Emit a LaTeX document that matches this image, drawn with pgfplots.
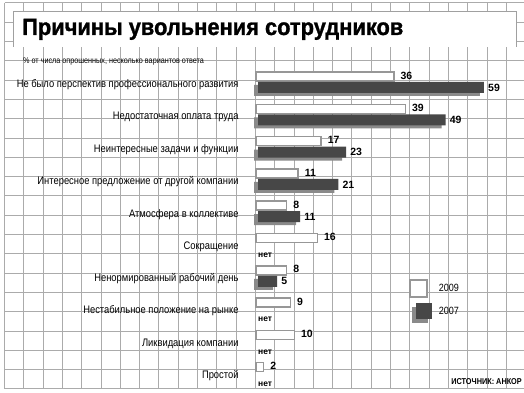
\documentclass[border=0pt]{standalone}
\usepackage{fontspec}
\setmainfont{Liberation Sans}
\newfontfamily\cond[FakeStretch=0.86]{Liberation Sans}
\newfontfamily\titlefont[FakeStretch=0.93, FakeBold=1.2]{Liberation Sans Bold}
\usepackage{pgfplots}
\usepackage{pgfplotstable}
\pgfplotsset{compat=1.18}
\definecolor{gridc}{HTML}{ABABAB}
\definecolor{boxc}{HTML}{A0A0A0}
\definecolor{barline}{HTML}{979797}
\definecolor{darkbar}{HTML}{474747}
\definecolor{shadowc}{HTML}{8A8A8A}
\newcommand{\fs}[1]{\fontsize{#1}{#1}\selectfont}
\pgfplotstableread{
y v
0 36
-1 39
-2 17
-3 11
-4 8
-5 16
-6 8
-7 9
-8 10
-9 2
}\tabA
\pgfplotstableread{
y v
0 59
-1 49
-2 23
-3 21
-4 11
-6 5
}\tabB
\begin{document}
\begin{tikzpicture}
\path[use as bounding box] (0,0) rectangle (524pt,393pt);
\fill[white] (0,0) rectangle (524pt,393pt);
\begin{scope}[yshift=393pt, x=1pt, y=-1pt]
  \foreach \k in {0,...,27} { \draw[gridc, line width=1pt] ({4.5+19.3*\k},3) -- ({4.5+19.3*\k},389); }
  \foreach \k in {0,...,20} { \draw[gridc, line width=1pt] (4.5,{3+19.3*\k}) -- (524,{3+19.3*\k}); }
  \fill[white] (13,12) rectangle (516,47);
  \draw[boxc, line width=1pt] (13,47) -- (13,12) -- (516,12) -- (516,47);
  \node[anchor=base west, inner sep=0pt, font=\titlefont\fs{23.5}] at (22,35) {Причины увольнения сотрудников};
  \node[anchor=base west, inner sep=0pt, font=\cond\fs{8.4}] at (23,64) {\% от числа опрошенных, несколько вариантов ответа};
  \node[anchor=base east, inner sep=0pt, font=\cond\bfseries\fs{8.5}] at (522,384) {ИСТОЧНИК: АНКОР};
\end{scope}
\begin{axis}[
  at={(0,0)}, anchor=south west, scale only axis,
  width=524pt, height=393pt,
  xmin=-66.84, xmax=69.97, ymin=-9.644, ymax=2.523,
  axis line style={draw=none}, tick style={draw=none},
  xtick=\empty,
  ytick={0,-1,-2,-3,-4,-5,-6,-7,-8,-9},
  yticklabels={Не было перспектив профессионального развития, Недостаточная оплата труда, Неинтересные задачи и функции, Интересное предложение от другой компании, Атмосфера в коллективе, Сокращение, Ненормированный рабочий день, Нестабильное положение на рынке, Ликвидация компании, Простой},
  yticklabel style={anchor=east, inner sep=0pt, xshift=243pt, yshift=-3.5pt, font=\cond\fs{10.9}},
  clip=false,
  xbar,
  point meta=x,
  /pgf/number format/assume math mode=true,
  legend cell align=left,
  legend style={at={(axis description cs:0.7805,0.2901)}, anchor=north west, draw=none, fill=none, inner sep=0pt, row sep=5.5pt, font=\cond\fs{10.5}, nodes={inner sep=0pt}},
]
\addplot[fill=white, draw=barline, line width=1.5pt, bar width=9pt, bar shift=5pt,
  nodes near coords,
  nodes near coords style={font=\bfseries\fs{10.5}, anchor=west, inner sep=0pt, xshift=6pt, yshift=1pt},
  legend image code/.code={\draw[barline, line width=1.5pt, fill=white] (0pt,-8.5pt) rectangle (17pt,8.5pt); \path (27pt,0pt);}]
  table[x=v, y=y] {\tabA};
\addplot[forget plot, fill=shadowc, draw=none, bar width=11pt, bar shift=-9pt, xshift=-2pt]
  table[x=v, y=y] {\tabB};
\addplot[fill=darkbar, draw=none, bar width=11pt, bar shift=-6pt, xshift=2pt,
  nodes near coords,
  nodes near coords style={font=\bfseries\fs{10.5}, anchor=west, inner sep=0pt, xshift=4pt},
  legend image code/.code={\fill[shadowc] (0pt,-12pt) rectangle (16pt,4pt); \fill[darkbar] (4pt,-8pt) rectangle (20pt,8pt); \path (27pt,0pt);}]
  table[x=v, y=y] {\tabB};
\legend{2009,2007}
\node[anchor=west, inner sep=0pt, xshift=2pt, yshift=-12pt, font=\bfseries\fs{8.5}] at (axis cs:0,-5) {нет};
\node[anchor=west, inner sep=0pt, xshift=2pt, yshift=-12pt, font=\bfseries\fs{8.5}] at (axis cs:0,-7) {нет};
\node[anchor=west, inner sep=0pt, xshift=2pt, yshift=-12pt, font=\bfseries\fs{8.5}] at (axis cs:0,-8) {нет};
\node[anchor=west, inner sep=0pt, xshift=2pt, yshift=-12pt, font=\bfseries\fs{8.5}] at (axis cs:0,-9) {нет};
\end{axis}
\end{tikzpicture}
\end{document}
